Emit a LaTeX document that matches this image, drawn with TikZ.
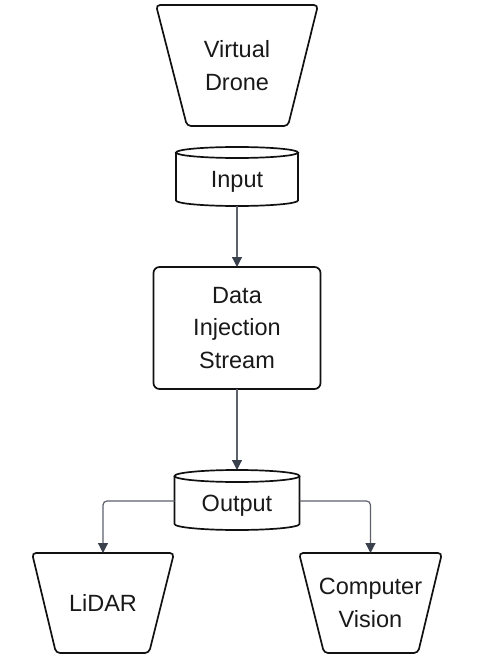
\documentclass[tikz,border=0pt]{standalone}
\usepackage{fontspec}
\setmainfont{Liberation Sans}
\usetikzlibrary{arrows.meta}
\definecolor{edge}{HTML}{111111}
\definecolor{conn}{HTML}{5C616B}
\definecolor{tipc}{HTML}{3A414D}
\tikzset{
  txt/.style={inner sep=0pt, outer sep=0pt, align=center, font=\fontsize{23.5}{32.5}\selectfont, text=black!90},
  shapeline/.style={draw=edge, line width=1.7pt, rounded corners=4pt},
  cylline/.style={draw=edge, line width=1.7pt},
  connector/.style={draw=conn, line width=1.2pt, rounded corners=4pt, -{Triangle[length=10pt,width=10pt,fill=tipc,color=tipc]}}
}
\begin{document}
\begin{tikzpicture}[x=1pt,y=-1pt]
\useasboundingbox (0,0) rectangle (480,668);
% Virtual Drone
\node[txt, minimum width=162pt, minimum height=121pt] (vd) at (237,65.5) {Virtual\\Drone};
\draw[shapeline] (vd.north) -- (vd.north east) -- ([xshift=-30pt]vd.south east) -- ([xshift=31pt]vd.south west) -- (vd.north west) -- cycle;
% Input cylinder
\node[txt, minimum width=122pt, minimum height=48pt] (inp) at (237,182) {Input};
\draw[cylline] ([yshift=5.5pt]inp.north) ellipse[x radius=61pt, y radius=5.5pt];
\draw[cylline] ([yshift=5.5pt]inp.north west) -- ([yshift=5.5pt]inp.south west) arc[start angle=180, end angle=360, x radius=61pt, y radius=5.5pt] -- ([yshift=5.5pt]inp.north east);
% Data Injection Stream
\node[txt, minimum width=167pt, minimum height=122pt, draw=edge, line width=1.7pt, rounded corners=6pt] (dis) at (237,328) {Data\\Injection\\Stream};
% Output cylinder
\node[txt, minimum width=125pt, minimum height=48pt] (outp) at (237,506) {Output};
\draw[cylline] ([yshift=6pt]outp.north) ellipse[x radius=62.5pt, y radius=6pt];
\draw[cylline] ([yshift=6pt]outp.north west) -- ([yshift=6pt]outp.south west) arc[start angle=180, end angle=360, x radius=62.5pt, y radius=6pt] -- ([yshift=6pt]outp.north east);
\coordinate (outtop) at ([yshift=12pt]outp.north);
% LiDAR
\node[txt, minimum width=142pt, minimum height=100pt] (lidar) at (103,603) {LiDAR};
\draw[shapeline] (lidar.north) -- (lidar.north east) -- ([xshift=-25pt]lidar.south east) -- ([xshift=24pt]lidar.south west) -- (lidar.north west) -- cycle;
% Computer Vision
\node[txt, minimum width=143pt, minimum height=100pt] (cv) at (370.5,603) {Computer\\Vision};
\draw[shapeline] (cv.north) -- (cv.north east) -- ([xshift=-24pt]cv.south east) -- ([xshift=25pt]cv.south west) -- (cv.north west) -- cycle;
% connectors
\draw[connector] (inp.south) -- (dis.north);
\draw[connector] (dis.south) -- (outtop);
\draw[connector] ([yshift=5pt]outp.west) -| (lidar.north);
\draw[connector] ([yshift=5pt]outp.east) -| (cv.north);
\end{tikzpicture}
\end{document}
